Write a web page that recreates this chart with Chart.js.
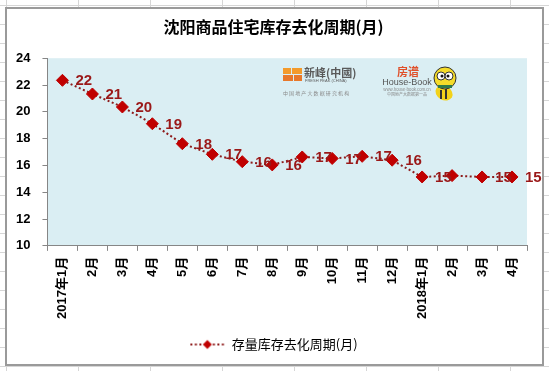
<!DOCTYPE html>
<html>
<head>
<meta charset="utf-8">
<script src="https://cdn.jsdelivr.net/npm/chart.js@4.4.1/dist/chart.umd.min.js"></script>
<style>
  html, body { margin: 0; padding: 0; }
  body {
    width: 549px; height: 371px; overflow: hidden; position: relative;
    background-color: #fff;
    background-image: linear-gradient(to right, #d6d6d6 1px, transparent 1px),
                      linear-gradient(to bottom, #d6d6d6 1px, transparent 1px);
    background-size: 72px 19px;
    background-position: 6px 5px;
  }
  #frame {
    position: absolute; left: 5px; top: 7px; width: 539px; height: 359px;
    box-sizing: border-box; border: 2px solid #9a9a9a; background: #fff;
  }
  #c { position: absolute; left: 0; top: 0; }
</style>
</head>
<body>
<div id="frame"></div>
<canvas id="c" width="549" height="371"></canvas>
<script>
// ---- data ----
const chartTitle = '沈阳商品住宅库存去化周期(月)';
const seriesName = '存量库存去化周期(月)';
const categories = ['2017年1月','2月','3月','4月','5月','6月','7月','8月','9月','10月','11月','12月','2018年1月','2月','3月','4月'];
const cycleValues = [22.35, 21.33, 20.36, 19.11, 17.62, 16.83, 16.28, 16.04, 16.63, 16.52, 16.68, 16.39, 15.14, 15.24, 15.14, 15.14];
const valueLabels = ['22','21','20','19','18','17','16','16','17','17','17','16','15','','15','15'];
const yTickMin = 10, yTickMax = 24, yTickStep = 2;

const LINE_COLOR = '#8e1b1b';
const MARK_COLOR = '#c00000';
const LABEL_COLOR = '#9a1818';
const PLOT_BG = '#daeef3';
const AXIS_COLOR = '#868686';
const LAT = '"Liberation Sans", "Noto Sans CJK SC", sans-serif';
const CJK = '"Noto Sans CJK SC", "Liberation Sans", sans-serif';

// legend sample: dotted line + diamond
const sample = document.createElement('canvas');
sample.width = 36; sample.height = 14;
(function(){
  const g = sample.getContext('2d');
  g.strokeStyle = LINE_COLOR; g.lineWidth = 2; g.setLineDash([2, 2.5]);
  g.beginPath(); g.moveTo(1, 7); g.lineTo(35, 7); g.stroke();
  g.setLineDash([]);
  g.fillStyle = MARK_COLOR;
  g.beginPath(); g.moveTo(18, 2.5); g.lineTo(22.5, 7); g.lineTo(18, 11.5); g.lineTo(13.5, 7); g.closePath(); g.fill();
})();

// centre title and legend on the frame rather than the padded box
const centerPlugin = {
  id: 'centerBlocks',
  afterLayout(chart) {
    if (chart.titleBlock) chart.titleBlock.left = 20;
    if (chart.legend) chart.legend.left = 20;
  }
};

const bgPlugin = {
  id: 'plotBg',
  beforeDraw(chart) {
    const {ctx, chartArea: a} = chart;
    ctx.save(); ctx.fillStyle = PLOT_BG;
    ctx.fillRect(a.left, a.top, a.right - a.left, a.bottom - a.top);
    ctx.restore();
  }
};

const logoPlugin = {
  id: 'logos',
  beforeDatasetsDraw(chart) {
    const ctx = chart.ctx;
    ctx.save();
    // 新峰 logo blocks
    ctx.fillStyle = '#f39a2b';
    ctx.fillRect(283, 68, 8, 6); ctx.fillRect(292, 68, 10, 6);
    ctx.fillStyle = '#e8782a';
    ctx.fillRect(283, 75, 10, 6); ctx.fillRect(294, 75, 8, 6);
    ctx.fillStyle = '#5a5a5a';
    ctx.textBaseline = 'middle'; ctx.textAlign = 'left';
    ctx.font = 'bold 11px ' + CJK;
    ctx.fillText('新峰(中國)', 304, 73);
    ctx.font = '4px ' + LAT;
    ctx.fillText('FRESH PEAK (CHINA)', 305, 80.5);
    ctx.fillStyle = '#8a8a8a';
    ctx.font = '5px ' + CJK;
    ctx.fillText('中 国 地 产 大 数 据 研 究 机 构', 283, 93);
    // 房谱 logo
    ctx.fillStyle = '#e0502a';
    ctx.font = 'bold 11px ' + CJK;
    ctx.textAlign = 'center';
    ctx.fillText('房谱', 408, 72);
    ctx.fillStyle = '#555';
    ctx.font = '9px ' + LAT;
    ctx.fillText('House-Book', 407, 83);
    ctx.fillStyle = '#888';
    ctx.font = '4px ' + CJK;
    ctx.fillText('www.house-book.com.cn', 407, 89);
    ctx.fillText('中国地产大数据第一品', 407, 94);
    // bee
    ctx.fillStyle = '#f2d21b';
    ctx.beginPath(); ctx.ellipse(444, 93, 9, 7, 0.5, 0, Math.PI * 2); ctx.fill();
    ctx.fillStyle = '#333';
    ctx.fillRect(440, 90, 2, 9); ctx.fillRect(445, 89, 2, 10);
    ctx.fillStyle = '#f5dc2a';
    ctx.beginPath(); ctx.arc(445, 78, 11, 0, Math.PI * 2); ctx.fill();
    ctx.strokeStyle = '#333'; ctx.lineWidth = 1; ctx.stroke();
    ctx.fillStyle = '#fff';
    ctx.beginPath(); ctx.arc(441, 76, 4, 0, Math.PI * 2); ctx.fill(); ctx.stroke();
    ctx.beginPath(); ctx.arc(449, 76, 4, 0, Math.PI * 2); ctx.fill(); ctx.stroke();
    ctx.fillStyle = '#111';
    ctx.beginPath(); ctx.arc(442, 76, 1.5, 0, Math.PI * 2); ctx.fill();
    ctx.beginPath(); ctx.arc(448, 76, 1.5, 0, Math.PI * 2); ctx.fill();
    ctx.fillStyle = '#2f7a4a';
    ctx.fillRect(438, 85, 14, 3);
    ctx.restore();
  }
};

const labelPlugin = {
  id: 'valueLabels',
  afterDatasetsDraw(chart) {
    const ctx = chart.ctx;
    const meta = chart.getDatasetMeta(0);
    ctx.save();
    ctx.fillStyle = LABEL_COLOR;
    ctx.font = 'bold 15px ' + LAT;
    ctx.textAlign = 'left'; ctx.textBaseline = 'middle';
    meta.data.forEach((pt, i) => {
      const t = valueLabels[i];
      if (t) ctx.fillText(t, pt.x + 13, pt.y + 1);
    });
    ctx.restore();
  }
};

new Chart(document.getElementById('c'), {
  type: 'line',
  data: {
    labels: categories,
    datasets: [{
      label: seriesName,
      data: cycleValues,
      borderColor: LINE_COLOR,
      borderWidth: 2,
      borderDash: [2, 2.5],
      backgroundColor: MARK_COLOR,
      pointStyle: 'rectRot',
      pointRadius: 6,
      pointBackgroundColor: MARK_COLOR,
      pointBorderColor: MARK_COLOR,
      pointBorderWidth: 1,
      tension: 0,
      fill: false
    }]
  },
  options: {
    responsive: false,
    devicePixelRatio: 1,
    animation: false,
    layout: { padding: { left: 4, right: 22, top: 0, bottom: 10 } },
    plugins: {
      title: {
        display: true, text: chartTitle, color: '#000',
        font: { family: CJK, size: 16, weight: 'bold' },
        padding: { top: 17, bottom: 22 }
      },
      legend: {
        display: true, position: 'bottom',
        labels: {
          color: '#000',
          font: { family: CJK, size: 13 },
          usePointStyle: true,
          pointStyleWidth: 36,
          padding: 13,
          generateLabels(chart) {
            return [{ text: seriesName, pointStyle: sample, fillStyle: MARK_COLOR, strokeStyle: LINE_COLOR, lineWidth: 0, datasetIndex: 0, fontColor: '#000' }];
          }
        }
      },
      tooltip: { enabled: false }
    },
    scales: {
      x: {
        type: 'category',
        offset: true,
        grid: { display: true, drawOnChartArea: false, drawTicks: true, tickLength: 5, color: AXIS_COLOR, offset: true },
        border: { display: true, color: AXIS_COLOR, width: 1 },
        ticks: {
          color: '#000', font: { family: LAT, size: 13, weight: 'bold' },
          minRotation: 90, maxRotation: 90, autoSkip: false, padding: 6
        }
      },
      y: {
        min: yTickMin, max: yTickMax,
        grid: { display: true, drawOnChartArea: false, drawTicks: true, tickLength: 5, color: AXIS_COLOR },
        border: { display: true, color: AXIS_COLOR, width: 1 },
        ticks: {
          stepSize: yTickStep, color: '#000', padding: 12,
          font: { family: LAT, size: 13, weight: 'bold' }
        }
      }
    }
  },
  plugins: [centerPlugin, bgPlugin, logoPlugin, labelPlugin]
});
</script>
</body>
</html>
